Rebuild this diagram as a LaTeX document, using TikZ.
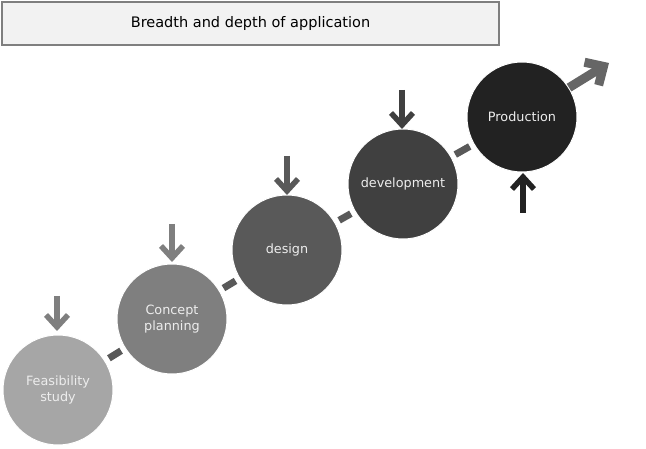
\documentclass[tikz,border=0pt]{standalone}
\usepackage{fontspec}
\setmainfont{DejaVu Sans}
\usetikzlibrary{arrows.meta,calc}
\definecolor{cA}{HTML}{A6A6A6}
\definecolor{cB}{HTML}{7F7F7F}
\definecolor{cC}{HTML}{595959}
\definecolor{cD}{HTML}{404040}
\definecolor{cE}{HTML}{222222}
\tikzset{
  stage/.style={circle, minimum size=110pt, inner sep=0pt, draw=white, line width=1pt,
    text=white!93!black, font=\fontsize{12.8}{15.5}\selectfont, align=center},
  link/.style={draw=cC, line width=7pt, shorten <=4.5pt, shorten >=4.5pt},
  inarrow/.style={line width=5.5pt, -{Straight Barb[length=12pt,width=22pt]}},
  outarrow/.style={line width=9pt, -{Straight Barb[length=14pt,width=27pt]}},
  titlebox/.style={draw=cB, line width=2.5pt, fill=black!5, minimum width=497pt,
    minimum height=43pt, inner sep=0pt, font=\fontsize{14.5}{17}\selectfont}
}
\begin{document}
\begin{tikzpicture}[x=1pt,y=-1pt]
\useasboundingbox (0,0) rectangle (646,449);
\node[titlebox] (title) at (250.5,23.5) {Breadth and depth of application};
\node[stage, fill=cA] (f) at (58,390) {Feasibility\\study};
\node[stage, fill=cB] (c) at (172,319) {Concept\\planning};
\node[stage, fill=cC] (d) at (287,250) {design};
\node[stage, fill=cD] (v) at (403,184) {development};
\node[stage, fill=cE] (p) at (522,117) {Production};
\draw[link] (f) -- (c);
\draw[link] (c) -- (d);
\draw[link] (d) -- (v);
\draw[link] (v) -- (p);
\coordinate (fa) at (57,296);
\coordinate (fb) at (57,331);
\coordinate (ca) at (172,224);
\coordinate (cb) at (172,262);
\coordinate (da) at (287,156);
\coordinate (db) at (287,195);
\coordinate (va) at (402,90);
\coordinate (vb) at (402,129);
\coordinate (pa) at (523,213);
\coordinate (pb) at (523,173);
\coordinate (out) at (609,63);
\draw[inarrow, draw=cB] (fa) -- (fb);
\draw[inarrow, draw=cB] (ca) -- (cb);
\draw[inarrow, draw=cC] (da) -- (db);
\draw[inarrow, draw=cD] (va) -- (vb);
\draw[inarrow, draw=cE] (pa) -- (pb);
\draw[outarrow, draw=black!60] (p.32) -- (out);
\end{tikzpicture}
\end{document}
